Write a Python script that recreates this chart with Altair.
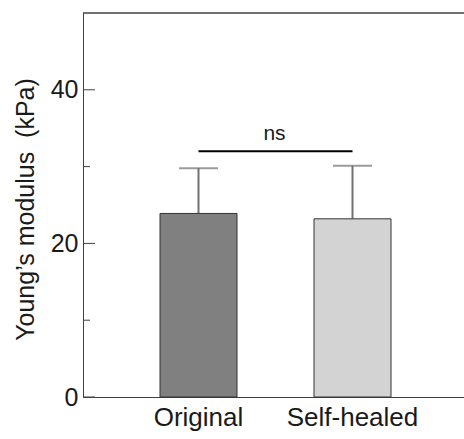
import altair as alt
import pandas as pd

categories = ["Original", "Self-healed"]
means = [23.9, 23.2]
errors = [5.9, 6.9]
fills = ["#808080", "#d3d3d3"]
major_ticks = [0, 20, 40]
minor_ticks = [10, 30]
y_max = 50
sig_level = 32.0
sig_label = "ns"

df = pd.DataFrame({"group": categories, "mean": means, "err": errors, "fill": fills})
df["upper"] = df["mean"] + df["err"]
major_df = pd.DataFrame({"v": major_ticks})
minor_df = pd.DataFrame({"v": minor_ticks})
sig_df = pd.DataFrame({"label": [sig_label], "a": [categories[0]], "b": [categories[1]], "lvl": [sig_level]})
top_df = pd.DataFrame({"v": [y_max]})

FONT = "Liberation Sans"
W, H = 381, 384
AXC = "#404040"
ERRC = "#707070"

x_scale = alt.Scale(domain=categories, range=[0, 385], paddingInner=0.5, paddingOuter=0.5)
y_scale = alt.Scale(domain=[0, y_max], nice=False)

x_enc = alt.X("group:N", sort=categories, scale=x_scale,
              axis=alt.Axis(title=None, labelAngle=0, ticks=False, domain=True,
                            domainColor=AXC, labelFontSize=26, labelFont=FONT,
                            labelColor="#1a1a1a", labelPadding=7))

y_axis = alt.Axis(title="Young’s modulus\u00a0 (kPa)", values=major_ticks, ticks=False, grid=False,
                  domainColor=AXC, labelFontSize=25, labelFont=FONT, labelColor="#1a1a1a",
                  labelPadding=5, titleFont=FONT, titleFontSize=25, titleFontWeight="normal",
                  titleColor="#1a1a1a", titleX=-50, titleY=196, titleAngle=270,
                  titleAlign="center", titleBaseline="alphabetic")

base = alt.Chart(df)

err_rule = base.mark_rule(color=ERRC, strokeWidth=2).encode(
    x=x_enc, y=alt.Y("mean:Q", scale=y_scale, axis=y_axis), y2="upper:Q")
err_cap = base.mark_tick(color=ERRC, thickness=2, size=39).encode(
    x=x_enc, y=alt.Y("upper:Q", scale=y_scale))
bars = base.mark_bar(stroke="#333333", strokeWidth=1).encode(
    x=x_enc, y=alt.Y("mean:Q", scale=y_scale, axis=y_axis),
    color=alt.Color("fill:N", scale=None))

major = alt.Chart(major_df).mark_rule(color=AXC, strokeWidth=1).encode(
    y=alt.Y("v:Q", scale=y_scale), x=alt.value(0), x2=alt.value(12))
minor = alt.Chart(minor_df).mark_rule(color=AXC, strokeWidth=1).encode(
    y=alt.Y("v:Q", scale=y_scale), x=alt.value(0), x2=alt.value(7))
top = alt.Chart(top_df).mark_rule(color=AXC, strokeWidth=1.5).encode(
    y=alt.Y("v:Q", scale=y_scale), x=alt.value(0), x2=alt.value(W))

sig_line = alt.Chart(sig_df).mark_rule(color="black", strokeWidth=2).encode(
    x=alt.X("a:N", scale=x_scale), x2="b:N", y=alt.Y("lvl:Q", scale=y_scale))
sig_text = alt.Chart(sig_df).mark_text(font=FONT, fontSize=21, color="#1a1a1a", dx=76, dy=-11,
                                       baseline="alphabetic", align="center").encode(
    x=alt.X("a:N", scale=x_scale), y=alt.Y("lvl:Q", scale=y_scale), text="label:N")

chart = alt.layer(err_rule, err_cap, bars, major, minor, top, sig_line, sig_text).properties(
    width=W, height=H,
    autosize=alt.AutoSizeParams(type="none"),
    padding={"left": 83, "top": 13, "right": 0, "bottom": 42},
).configure_view(stroke=None).configure_axis(grid=False)

chart.save("out.html", embed_options={"renderer": "svg", "actions": False})
